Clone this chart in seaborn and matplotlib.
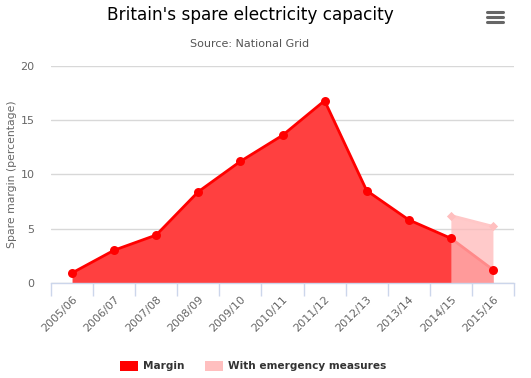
import matplotlib
matplotlib.use("Agg")
import matplotlib.pyplot as plt
import seaborn as sns
import numpy as np
import pandas as pd
from matplotlib.patches import Patch
from matplotlib.lines import Line2D

categories = ["2005/06", "2006/07", "2007/08", "2008/09", "2009/10", "2010/11",
              "2011/12", "2012/13", "2013/14", "2014/15", "2015/16"]
margin = [0.9, 3.0, 4.4, 8.4, 11.2, 13.6, 16.8, 8.5, 5.8, 4.1, 1.2]
emerg_categories = ["2014/15", "2015/16"]
emergency = [6.2, 5.2]

title = "Britain's spare electricity capacity"
subtitle = "Source: National Grid"
ylabel = "Spare margin (percentage)"
yticks = [0, 5, 10, 15, 20]

sns.set_style("white")
plt.rcParams['font.family'] = ['DejaVu Sans']

df = pd.DataFrame({"cat": categories, "x": np.arange(len(categories)), "margin": margin})
edf = pd.DataFrame({"cat": emerg_categories,
                    "x": [categories.index(c) for c in emerg_categories],
                    "emergency": emergency})

fig = plt.figure(figsize=(5.31, 3.78), dpi=100)
ax = fig.add_axes([51/531, 1-282.7/378, (514-51)/531, (282.7-66)/378])

red = "#ff0000"
# margin area
ax.fill_between(df["x"], 0, df["margin"], color=(1, 0.25, 0.25), lw=0, zorder=2)
sns.lineplot(data=df, x="x", y="margin", ax=ax, color=red, lw=2, zorder=3)
# emergency area overlay
ax.fill_between(edf["x"], 0, edf["emergency"], color=(1, 185/255, 185/255), alpha=0.75,
                lw=0, zorder=4)
sns.lineplot(data=edf, x="x", y="emergency", ax=ax, color=(1, 0.78, 0.78), lw=2, zorder=5)
ax.scatter(edf["x"], edf["emergency"], marker="D", s=22, color=(1, 0.75, 0.75), zorder=6, lw=0)
# markers for margin
ax.scatter(df["x"], df["margin"], marker="o", s=42, color=red, zorder=7, lw=0)

ax.set_xlim(-0.5, len(categories) - 0.5)
ax.set_ylim(0, 20)
ax.set_yticks(yticks)
ax.set_yticklabels([str(v) for v in yticks], color="#666666", fontsize=8)
ax.yaxis.grid(True, color="#d8d8d8", lw=1)
ax.set_axisbelow(True)
ax.tick_params(axis="y", length=0, pad=12)

ax.set_xticks(np.arange(len(categories)))
ax.set_xticklabels(categories, rotation=45, ha="right", rotation_mode="anchor",
                   color="#666666", fontsize=8)
ax.set_xticks(np.arange(-0.5, len(categories)), minor=True)
ax.tick_params(axis="x", which="major", length=0, pad=8)
ax.tick_params(axis="x", which="minor", length=9, color="#ccd6eb", width=1, direction="out")
ax.xaxis.set_ticks_position("bottom")

for s in ["top", "right", "left"]:
    ax.spines[s].set_visible(False)
ax.spines["bottom"].set_color("#ccd6eb")
ax.spines["bottom"].set_linewidth(1)
ax.spines["bottom"].set_zorder(8)

ax.set_xlabel("")
ax.set_ylabel(ylabel, color="#666666", fontsize=7.8)
ax.yaxis.set_label_coords(-0.074, 0.5)

fig.text(250/531, 1-15/378, title, ha="center", va="center", fontsize=12.2, color="#000000")
fig.text(250/531, 1-44/378, subtitle, ha="center", va="center", fontsize=8, color="#555555")

# menu icon
for yy in [12, 17, 22]:
    fig.add_artist(Line2D([487/531, 503/531], [1-yy/378, 1-yy/378], color="#666666", lw=2.2,
                          solid_capstyle="round"))

handles = [Patch(facecolor=red, edgecolor="none", label="Margin"),
           Patch(facecolor="#ffbfbf", edgecolor="none", label="With emergency measures")]
leg = fig.legend(handles=handles, loc="center", bbox_to_anchor=(253/531, 1-366/378), ncol=2,
                 frameon=False, handlelength=1.7, handleheight=1.2, handletextpad=0.5,
                 columnspacing=1.9, fontsize=7.6)
for t in leg.get_texts():
    t.set_fontweight("bold")
    t.set_color("#333333")

fig.savefig("out.png", dpi=100)
